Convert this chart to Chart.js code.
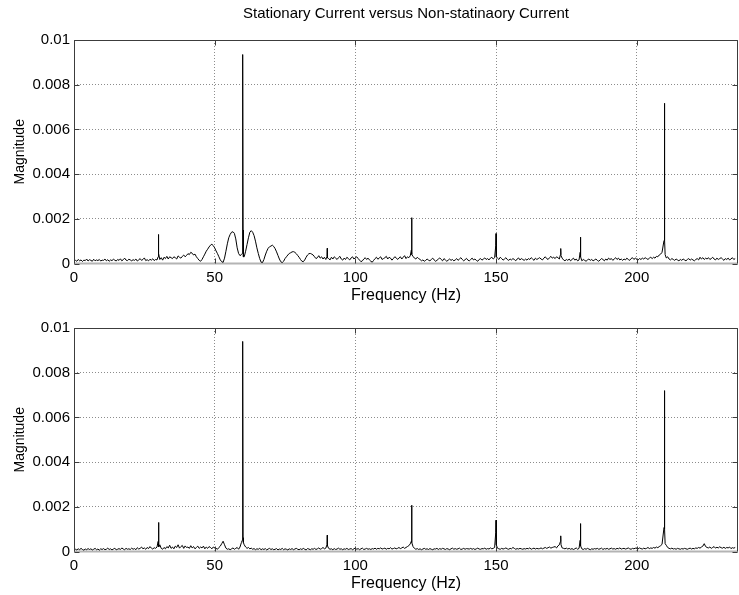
<!DOCTYPE html>
<html>
<head>
<meta charset="utf-8">
<script src="https://cdn.jsdelivr.net/npm/chart.js@4"></script>
<style>
    body { margin: 0; background: #fff; }
    #wrap { position: relative; width: 739px; height: 595px; overflow: hidden; }
    #wrap canvas { position: absolute; left: 0; }
</style>
</head>
<body>
<div id="wrap">
    <canvas id="top-spectrum" width="739" height="305" style="top:0"></canvas>
    <canvas id="bottom-spectrum" width="739" height="305" style="top:288px"></canvas>
</div>
<script>
"use strict";

// spectrum samples every 0.5 Hz starting at 0 Hz, magnitudes in units of 1e-5
const freqStep = 0.5;
const magUnit = 1e-5;

const xTickValues = [0, 50, 100, 150, 200];
const yTickValues = [0, 0.002, 0.004, 0.006, 0.008, 0.01];

const titleText = 'Stationary Current versus Non-statinaory Current';

const upperNoise = [
    8,
    14, 10, 18, 12, 16, 9, 15, 13, 20, 11,          // 0.5 - 5
    17, 14, 10, 19, 12, 16, 13, 18, 11, 15,         // 5.5 - 10
    14, 20, 12, 17, 10, 16, 13, 19, 15, 11,         // 10.5 - 15
    18, 14, 21, 12, 17, 24, 15, 13, 19, 16,         // 15.5 - 20
    12, 17, 14, 20, 11, 16, 22, 14, 18, 25,         // 20.5 - 25
    13, 17, 12, 19, 15, 21, 13, 18, 16, 14,         // 25.5 - 30
    18, 26, 15, 28, 22, 32, 20, 30, 26, 22,         // 30.5 - 35
    30, 26, 20, 34, 28, 24, 32, 38, 30, 36,         // 35.5 - 40
    44, 40, 50, 46, 38, 42, 30, 22, 14, 10,         // 40.5 - 45
    18, 30, 42, 55, 64, 74, 82, 86, 80, 70,         // 45.5 - 50
    56, 44, 30, 16, 8, 5, 24, 55, 88, 115,          // 50.5 - 55
    130, 140, 142, 135, 110, 70, 45, 35, 40, 45,    // 55.5 - 60
    30, 55, 85, 115, 140, 147, 140, 125, 100, 70,   // 60.5 - 65
    45, 22, 6, 4, 18, 38, 55, 68, 75, 78,           // 65.5 - 70
    82, 76, 66, 52, 36, 20, 8, 4, 10, 22,           // 70.5 - 75
    30, 38, 45, 48, 52, 53, 50, 44, 36, 28,         // 75.5 - 80
    18, 10, 8, 16, 28, 38, 44, 45, 42, 38,          // 80.5 - 85
    30, 22, 26, 35, 24, 30, 20, 28, 18, 25,         // 85.5 - 90
    22, 16, 28, 20, 30, 24, 18, 26, 32, 20,         // 90.5 - 95
    15, 24, 18, 28, 22, 16, 25, 30, 20, 26,         // 95.5 - 100
    30, 22, 15, 8, 12, 20, 26, 18, 24, 16,          // 100.5 - 105
    10, 6, 14, 22, 28, 19, 25, 30, 18, 22,          // 105.5 - 110
    26, 32, 20, 28, 24, 15, 22, 30, 26, 18,         // 110.5 - 115
    24, 30, 20, 28, 35, 22, 30, 26, 34, 28,         // 115.5 - 120
    32, 24, 20, 28, 22, 18, 12, 16, 10, 14,         // 120.5 - 125
    20, 15, 12, 18, 24, 16, 10, 14, 20, 25,         // 125.5 - 130
    18, 12, 22, 16, 10, 15, 20, 14, 18, 12,         // 130.5 - 135
    16, 22, 14, 20, 26, 18, 12, 17, 23, 15,         // 135.5 - 140
    12, 18, 24, 16, 20, 14, 10, 18, 22, 15,         // 140.5 - 145
    20, 25, 18, 22, 16, 24, 28, 20, 26, 30,         // 145.5 - 150
    24, 18, 28, 22, 15, 20, 26, 18, 14, 20,         // 150.5 - 155
    16, 22, 18, 12, 20, 25, 16, 22, 18, 14,         // 155.5 - 160
    20, 15, 22, 18, 26, 20, 14, 24, 18, 22,         // 160.5 - 165
    26, 20, 16, 24, 30, 22, 18, 26, 32, 24,         // 165.5 - 170
    28, 22, 30, 26, 20, 18, 24, 16, 12, 18,         // 170.5 - 175
    14, 20, 12, 18, 24, 15, 20, 12, 16, 22,         // 175.5 - 180
    12, 18, 14, 10, 16, 20, 14, 18, 12, 16,         // 180.5 - 185
    20, 14, 10, 16, 22, 18, 12, 20, 15, 24,         // 185.5 - 190
    18, 22, 14, 20, 26, 18, 24, 16, 20, 14,         // 190.5 - 195
    20, 16, 24, 18, 14, 22, 26, 18, 24, 20,         // 195.5 - 200
    16, 22, 18, 24, 20, 26, 22, 18, 24, 28,         // 200.5 - 205
    22, 28, 24, 32, 30, 38, 42, 50, 65, 40,         // 205.5 - 210
    25, 30, 20, 16, 22, 18, 14, 20, 16, 12,         // 210.5 - 215
    18, 14, 20, 16, 12, 18, 22, 15, 20, 16,         // 215.5 - 220
    12, 18, 22, 16, 28, 20, 26, 18, 24, 20,         // 220.5 - 225
    26, 18, 22, 28, 20, 16, 24, 18, 22, 26,         // 225.5 - 230
    20, 14, 22, 18, 24, 16, 20, 26, 18, 22          // 230.5 - 235
];

const lowerNoise = [
    6,
    10, 7, 12, 8, 14, 9, 6, 11, 8, 13,              // 0.5 - 5
    9, 12, 7, 10, 14, 8, 11, 6, 12, 9,              // 5.5 - 10
    13, 8, 10, 15, 9, 12, 7, 11, 14, 8,             // 10.5 - 15
    10, 13, 9, 16, 11, 8, 14, 10, 12, 9,            // 15.5 - 20
    15, 10, 13, 8, 17, 11, 14, 20, 12, 16,          // 20.5 - 25
    10, 18, 13, 22, 15, 11, 17, 14, 20, 12,         // 25.5 - 30
    30, 14, 10, 18, 12, 22, 16, 28, 14, 20,         // 30.5 - 35
    12, 24, 18, 30, 15, 22, 27, 14, 25, 18,         // 35.5 - 40
    20, 14, 26, 16, 22, 12, 18, 24, 14, 20,         // 40.5 - 45
    16, 24, 12, 20, 14, 22, 18, 12, 20, 16,         // 45.5 - 50
    14, 10, 18, 24, 35, 46, 30, 15, 10, 12,         // 50.5 - 55
    8, 12, 16, 10, 14, 18, 10, 20, 40, 30,          // 55.5 - 60
    30, 20, 14, 18, 12, 15, 10, 13, 8, 12,          // 60.5 - 65
    10, 14, 8, 12, 9, 13, 7, 11, 14, 9,             // 65.5 - 70
    12, 8, 10, 13, 7, 11, 9, 14, 8, 12,             // 70.5 - 75
    10, 7, 12, 9, 13, 8, 11, 14, 10, 8,             // 75.5 - 80
    12, 9, 14, 10, 7, 13, 11, 8, 12, 10,            // 80.5 - 85
    14, 9, 12, 16, 10, 13, 18, 12, 15, 10,          // 85.5 - 90
    14, 10, 12, 8, 13, 9, 11, 15, 10, 12,           // 90.5 - 95
    8, 12, 10, 14, 9, 11, 13, 8, 12, 16,            // 95.5 - 100
    10, 13, 8, 12, 15, 9, 11, 14, 10, 12,           // 100.5 - 105
    9, 13, 11, 15, 10, 14, 12, 16, 11, 13,          // 105.5 - 110
    15, 10, 14, 12, 17, 11, 13, 16, 12, 14,         // 110.5 - 115
    18, 13, 16, 20, 14, 18, 22, 26, 34, 30,         // 115.5 - 120
    22, 14, 10, 13, 9, 12, 8, 11, 14, 10,           // 120.5 - 125
    12, 9, 13, 10, 8, 12, 11, 14, 9, 13,            // 125.5 - 130
    10, 14, 12, 9, 13, 11, 8, 12, 15, 10,           // 130.5 - 135
    13, 10, 12, 15, 9, 11, 14, 10, 13, 12,          // 135.5 - 140
    11, 14, 10, 13, 9, 12, 15, 11, 10, 13,          // 140.5 - 145
    12, 15, 10, 13, 11, 16, 12, 14, 18, 20,         // 145.5 - 150
    15, 12, 10, 14, 11, 13, 16, 12, 10, 14,         // 150.5 - 155
    12, 18, 14, 10, 13, 11, 14, 12, 10, 13,         // 155.5 - 160
    11, 14, 12, 16, 10, 13, 15, 11, 14, 12,         // 160.5 - 165
    13, 16, 12, 15, 18, 14, 17, 20, 15, 18,         // 165.5 - 170
    20, 22, 16, 25, 30, 20, 16, 14, 12, 15,         // 170.5 - 175
    11, 14, 10, 13, 9, 12, 16, 10, 14, 13,          // 175.5 - 180
    12, 9, 13, 10, 14, 11, 8, 12, 10, 13,           // 180.5 - 185
    11, 14, 10, 12, 15, 9, 13, 11, 14, 10,          // 185.5 - 190
    12, 15, 11, 13, 10, 14, 12, 16, 11, 13,         // 190.5 - 195
    14, 11, 13, 16, 12, 10, 14, 12, 15, 13,         // 195.5 - 200
    12, 16, 13, 11, 15, 12, 14, 18, 13, 16,         // 200.5 - 205
    14, 18, 15, 20, 17, 22, 26, 32, 45, 40,         // 205.5 - 210
    28, 18, 14, 12, 15, 11, 13, 10, 14, 12,         // 210.5 - 215
    10, 13, 11, 14, 12, 10, 13, 15, 11, 14,         // 215.5 - 220
    12, 16, 14, 18, 15, 20, 24, 35, 22, 18,         // 220.5 - 225
    16, 20, 14, 18, 22, 15, 19, 16, 21, 17,         // 225.5 - 230
    15, 19, 14, 18, 16, 20, 13, 17, 15, 18          // 230.5 - 235
];

// narrow harmonic lines: [frequency Hz, magnitude in 1e-5]
const upperSpikes = [
    [29.9, 30], [30.0, 130], [30.1, 45],
    [59.8, 45], [59.9, 510], [60.0, 935], [60.1, 150], [60.2, 30],
    [89.9, 30], [90.0, 68], [90.1, 25],
    [119.9, 60], [120.0, 205], [120.1, 40],
    [149.9, 80], [150.0, 134], [150.1, 30],
    [172.9, 40], [173.0, 67], [173.1, 35],
    [179.9, 50], [180.0, 118], [180.1, 30],
    [209.7, 103], [209.8, 430], [209.9, 717], [210.0, 105], [210.1, 40]
];

const lowerSpikes = [
    [29.9, 45], [30.0, 130], [30.1, 76], [30.2, 20],
    [59.8, 50], [59.9, 520], [60.0, 940], [60.1, 62], [60.2, 40],
    [89.9, 30], [90.0, 73], [90.1, 25],
    [119.9, 46], [120.0, 207], [120.1, 40],
    [149.9, 85], [150.0, 140], [150.1, 30],
    [172.9, 45], [173.0, 70], [173.1, 30],
    [179.9, 50], [180.0, 125], [180.1, 25],
    [209.7, 107], [209.8, 440], [209.9, 720], [210.0, 100], [210.1, 35]
];

const xMax = 236;

Chart.defaults.font.family = "'Liberation Sans', Arial, Helvetica, sans-serif";
Chart.defaults.font.size = 15;
Chart.defaults.color = '#000';

function buildSeries(noise, spikes) {
    let points = [];
    noise.forEach((v, i) => {
        let f = i * freqStep;
        let nearSpike = spikes.some(s => Math.abs(s[0] - f) < 0.25);
        if (!nearSpike) {
            points.push({x: f, y: v * magUnit});
        }
    });
    spikes.forEach(s => points.push({x: s[0], y: s[1] * magUnit}));
    points.sort((a, b) => a.x - b.x);
    return points;
}

function formatMagnitude(v) {
    return v === 0 ? '0' : String(parseFloat(v.toFixed(4)));
}

// matlab style box with inward ticks
const axesBox = {
    id: 'axesBox',
    beforeDatasetsDraw(chart) {
        let ctx = chart.ctx;
        let a = chart.chartArea;
        ctx.save();
        ctx.strokeStyle = '#b4b4b4';
        ctx.lineWidth = 2;
        ctx.beginPath();
        ctx.moveTo(a.left, a.bottom);
        ctx.lineTo(a.right, a.bottom);
        ctx.stroke();
        ctx.restore();
    },
    afterDatasetsDraw(chart) {
        let ctx = chart.ctx;
        let a = chart.chartArea;
        let xs = chart.scales.x;
        let ys = chart.scales.y;
        let l = Math.round(a.left) + 0.5;
        let t = Math.round(a.top) + 0.5;
        let r = Math.round(a.right) - 0.5;
        ctx.save();
        ctx.strokeStyle = '#3c3c3c';
        ctx.lineWidth = 1;
        ctx.beginPath();
        ctx.moveTo(l, a.bottom);
        ctx.lineTo(l, t);
        ctx.lineTo(r, t);
        ctx.lineTo(r, a.bottom);
        xTickValues.forEach(v => {
            let px = Math.round(xs.getPixelForValue(v)) + 0.5;
            ctx.moveTo(px, t);
            ctx.lineTo(px, t + 5);
            ctx.moveTo(px, a.bottom);
            ctx.lineTo(px, a.bottom - 5);
        });
        yTickValues.forEach(v => {
            let py = Math.round(ys.getPixelForValue(v)) + 0.5;
            ctx.moveTo(l, py);
            ctx.lineTo(l + 5, py);
            ctx.moveTo(r, py);
            ctx.lineTo(r - 5, py);
        });
        ctx.stroke();
        ctx.restore();
    }
};

function makeSpectrum(canvasId, points, showTitle) {
    return new Chart(document.getElementById(canvasId), {
        type: 'line',
        data: {
            datasets: [{
                data: points,
                borderColor: '#000',
                borderWidth: 1,
                pointRadius: 0,
                tension: 0,
                fill: false
            }]
        },
        options: {
            responsive: false,
            animation: false,
            devicePixelRatio: 1,
            layout: {
                padding: {left: 12, right: 1, top: showTitle ? 0 : 40, bottom: 0}
            },
            plugins: {
                legend: {display: false},
                tooltip: {enabled: false},
                title: {
                    display: showTitle,
                    text: titleText,
                    fullSize: false,
                    color: '#000',
                    font: {size: 15, weight: 'normal'},
                    padding: {top: 5, bottom: 17}
                }
            },
            scales: {
                x: {
                    type: 'linear',
                    min: 0,
                    max: xMax,
                    afterBuildTicks: axis => {
                        axis.ticks = xTickValues.map(v => ({value: v}));
                    },
                    afterFit: axis => {
                        axis.height = 41.5;
                    },
                    ticks: {padding: 5, maxRotation: 0},
                    grid: {color: '#8c8c8c', lineWidth: 1, drawTicks: false},
                    border: {display: false, dash: [1, 2]},
                    title: {display: true, text: 'Frequency (Hz)', padding: 0, font: {size: 16}}
                },
                y: {
                    min: 0,
                    max: 0.01,
                    afterBuildTicks: axis => {
                        axis.ticks = yTickValues.map(v => ({value: v}));
                    },
                    afterFit: axis => {
                        axis.width = 62;
                    },
                    ticks: {padding: 4, callback: v => formatMagnitude(v)},
                    grid: {color: '#8c8c8c', lineWidth: 1, drawTicks: false},
                    border: {display: false, dash: [1, 2]},
                    title: {display: true, text: 'Magnitude', padding: 0, font: {size: 14}}
                }
            }
        },
        plugins: [axesBox]
    });
}

makeSpectrum('top-spectrum', buildSeries(upperNoise, upperSpikes), true);
makeSpectrum('bottom-spectrum', buildSeries(lowerNoise, lowerSpikes), false);
</script>
</body>
</html>
